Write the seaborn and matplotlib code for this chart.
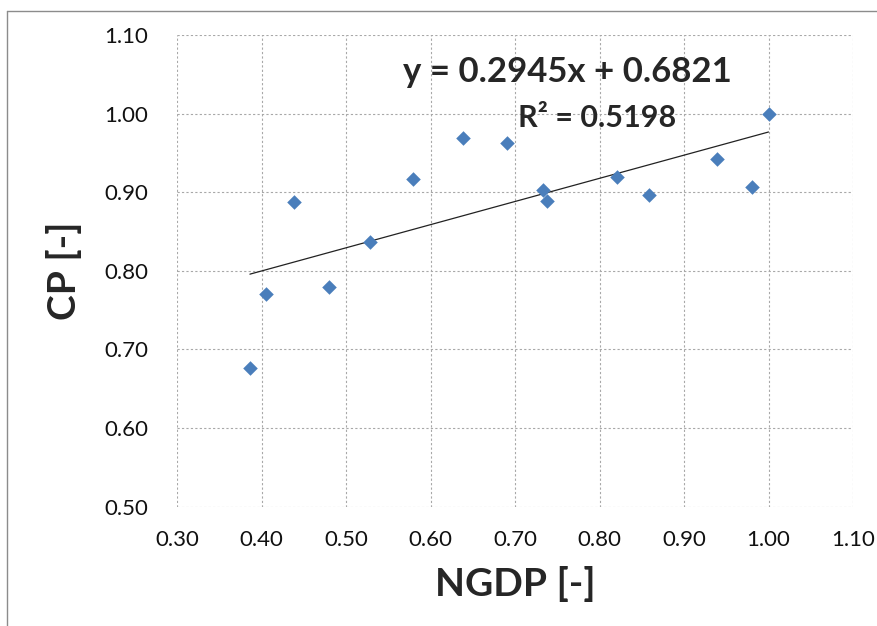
import matplotlib
matplotlib.use("Agg")
import matplotlib.pyplot as plt
from matplotlib.lines import Line2D
import numpy as np
import pandas as pd
import seaborn as sns

# valores
ngdp = [0.386, 0.405, 0.438, 0.480, 0.528, 0.579, 0.638, 0.690,
        0.733, 0.738, 0.821, 0.859, 0.939, 0.981, 1.000]
cp = [0.677, 0.771, 0.887, 0.779, 0.837, 0.917, 0.969, 0.963,
      0.903, 0.889, 0.919, 0.896, 0.942, 0.907, 1.000]
slope = 0.2945
intercept = 0.6821
r2 = 0.5198
x_ticks = [0.30, 0.40, 0.50, 0.60, 0.70, 0.80, 0.90, 1.00, 1.10]
y_ticks = [0.50, 0.60, 0.70, 0.80, 0.90, 1.00, 1.10]

df = pd.DataFrame({"NGDP": ngdp, "CP": cp})
x_fit = np.array([min(ngdp), max(ngdp)])
trend = pd.DataFrame({"NGDP": x_fit, "CP": slope * x_fit + intercept})

sns.set_style("white")
plt.rcParams["font.family"] = ["Lato", "DejaVu Sans"]

fig = plt.figure(figsize=(8.78, 6.26), dpi=100)
ax = fig.add_axes([0.2019, 0.1906, 0.7696, 0.7535])

sns.lineplot(data=trend, x="NGDP", y="CP", ax=ax, color="#222222", linewidth=0.9)
sns.scatterplot(data=df, x="NGDP", y="CP", ax=ax, marker="D", s=55,
                color="#4a7ebb", edgecolor="#4a7ebb", linewidth=0, zorder=3)

ax.set_xlim(0.30, 1.10)
ax.set_ylim(0.50, 1.10)
ax.set_xticks(x_ticks)
ax.set_yticks(y_ticks)
ax.set_xticklabels([f"{v:.2f}" for v in x_ticks])
ax.set_yticklabels([f"{v:.2f}" for v in y_ticks])
ax.tick_params(axis="both", labelsize=16, length=7, width=0.8,
               color="#c0c0c0", labelcolor="#111111")
ax.tick_params(axis="x", pad=10)
ax.tick_params(axis="y", pad=14)
ax.grid(True, color="#a8a8a8", linestyle=(0, (2, 2)), linewidth=0.8)
ax.set_axisbelow(True)
for s in ax.spines.values():
    s.set_visible(False)

ax.set_xlabel("NGDP [-]", fontsize=28, fontweight="bold", labelpad=11)
ax.set_ylabel("CP [-]", fontsize=28, fontweight="bold", labelpad=16)

ax.text(0.762, 1.040, f"y = {slope}x + {intercept}", fontsize=25,
        fontweight="bold", ha="center", va="baseline")
ax.text(0.797, 0.983, f"R² = {r2}", fontsize=22,
        fontweight="bold", ha="center", va="baseline")

# moldura do gráfico (só esquerda e topo visíveis)
fig.add_artist(Line2D([7 / 878, 7 / 878], [0, 1 - 11 / 626],
                      transform=fig.transFigure, color="#8c8c8c", linewidth=1))
fig.add_artist(Line2D([7 / 878, 1], [1 - 11 / 626, 1 - 11 / 626],
                      transform=fig.transFigure, color="#8c8c8c", linewidth=1))

fig.savefig("out.png", dpi=100)
